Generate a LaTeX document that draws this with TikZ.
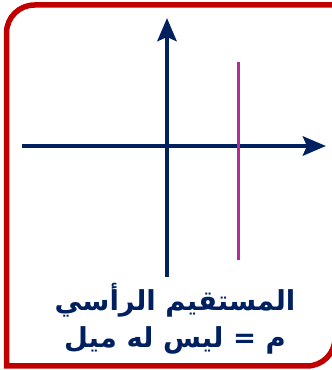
\documentclass[tikz,border=0pt]{standalone}
\usepackage{fontspec}
\newfontfamily\arabicfont[Script=Arabic]{DejaVu Sans}
\TeXXeTstate=1
\usetikzlibrary{arrows.meta}
\definecolor{framered}{RGB}{192,0,0}
\definecolor{axisnavy}{RGB}{0,32,96}
\definecolor{linemagenta}{RGB}{184,42,156}
\tikzset{
  frame/.style={draw=framered, line width=5.5pt},
  axis/.style={draw=axisnavy, line width=4.6pt, -{Stealth[length=23pt,width=19pt,inset=4pt]}},
  vline/.style={draw=linemagenta, line width=3pt},
  caption/.style={text=axisnavy, font=\arabicfont\bfseries\fontsize{27.5}{32}\selectfont, anchor=base, inner sep=0pt}
}
\begin{document}
\begin{tikzpicture}[x=1pt,y=1pt]
    \useasboundingbox (0,0) rectangle (332,370);
    \clip (0,0) rectangle (332,370);

    % الإطار
    \draw[frame] (6.5,4) -- (6.5,337) arc[start angle=180,end angle=90,radius=28]
      -- (335,365) -- (335,32) arc[start angle=0,end angle=-90,radius=28] -- cycle;

    % المحاور
    \coordinate (xstart) at (22,224);
    \coordinate (xend) at (326,224);
    \coordinate (ystart) at (167,93);
    \coordinate (yend) at (167,352);
    \draw[axis] (xstart) -- (xend);
    \draw[axis] (ystart) -- (yend);

    % المستقيم الرأسي
    \coordinate (vtop) at (238,308);
    \coordinate (vbot) at (238,110);
    \draw[vline] (vbot) -- (vtop);

    % النص
    \node[caption] (title) at (175,59) {\beginR المستقيم الرأسي\endR};
    \node[caption] (slope) at (175,23) {\beginR م = ليس له ميل\endR};
  \end{tikzpicture}
\end{document}
